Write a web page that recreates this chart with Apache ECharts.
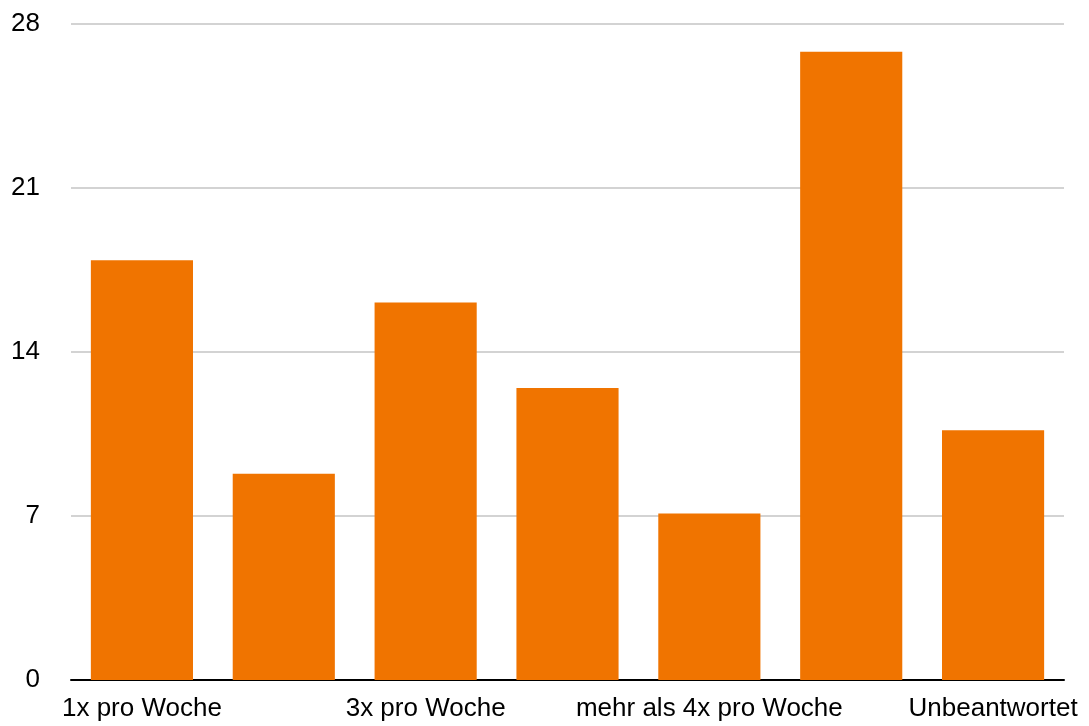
<!DOCTYPE html>
<html>
<head>
<meta charset="utf-8">
<script src="https://cdn.jsdelivr.net/npm/echarts@6/dist/echarts.min.js"></script>
<style>
html,body{margin:0;padding:0;background:#fff;}
#chart{width:1089px;height:726px;}
</style>
</head>
<body>
<div id="chart"></div>
<script>
const categories = ["1x pro Woche", "2x pro Woche", "3x pro Woche", "4x pro Woche", "mehr als 4x pro Woche", "nie", "Unbeantwortet"];
const values = [17.9, 8.8, 16.1, 12.45, 7.1, 26.8, 10.65];
const yTicks = [0, 7, 14, 21, 28];

const font = "'Helvetica Neue', Helvetica, 'Liberation Sans', Arial, sans-serif";
const chart = echarts.init(document.getElementById('chart'));
chart.setOption({
  animation: false,
  grid: { left: 71, right: 25, top: 23.5, bottom: 46, containLabel: false },
  xAxis: {
    type: 'category',
    data: categories,
    axisLine: { show: true, lineStyle: { color: '#000', width: 2 } },
    axisTick: { show: false },
    axisLabel: { interval: 1, color: '#000', fontSize: 26, fontFamily: font, margin: 16 },
    splitLine: { show: false }
  },
  yAxis: {
    type: 'value',
    min: yTicks[0],
    max: yTicks[yTicks.length - 1],
    interval: yTicks[1] - yTicks[0],
    axisLine: { show: false },
    axisTick: { show: false },
    axisLabel: { color: '#000', fontSize: 26, fontFamily: font, margin: 31, padding: [10, 0, 0, 0] },
    splitLine: { show: true, lineStyle: { color: '#c4c4c4', width: 1.5 } }
  },
  series: [{
    type: 'bar',
    data: values,
    barCategoryGap: '28%',
    itemStyle: { color: '#F07400' }
  }]
});
</script>
</body>
</html>
